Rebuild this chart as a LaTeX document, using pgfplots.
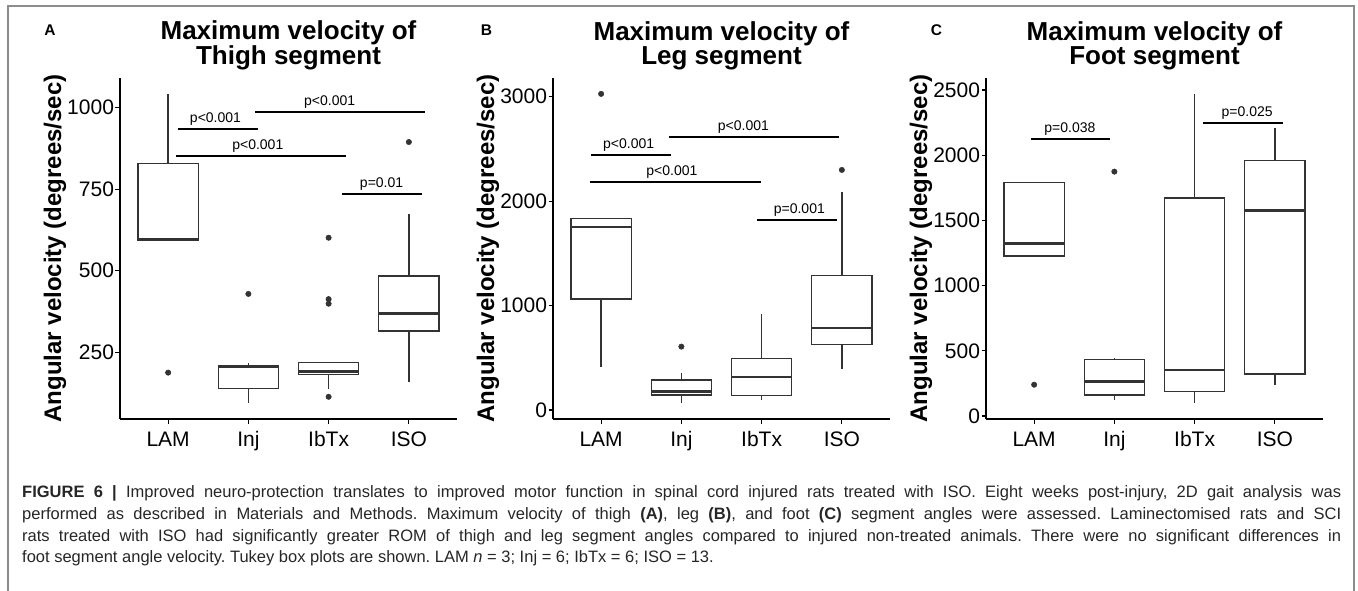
\documentclass[border=0pt]{standalone}
\usepackage{pgfplots}
\pgfplotsset{compat=1.18}
\usepgfplotslibrary{statistics}
\usepackage{fontspec}
\setmainfont{Liberation Sans}
\definecolor{boxc}{HTML}{333333}
\definecolor{framec}{HTML}{8C8C8C}
\definecolor{capc}{HTML}{262626}

\tikzset{siglab/.style={anchor=base, yshift=6.5pt, inner sep=0pt, font=\fontsize{14}{14}\selectfont}}
\pgfplotsset{
  panel/.style={
    scale only axis, width=337pt, height=341pt,
    axis x line*=bottom, axis y line*=left,
    axis line style={line width=1.1pt, black, -},
    xmin=0.4, xmax=4.6, xtick={1,2,3,4}, xticklabels={LAM,Inj,IbTx,ISO},
    tick align=outside, major tick length=4.5pt,
    tick style={line width=1.1pt, black},
    ticklabel style={font=\fontsize{21}{21}\selectfont},
    xticklabel style={anchor=base, yshift=-22.7pt},
    yticklabel style={xshift=2pt},
    /pgf/number format/assume math mode=true,
    /pgf/number format/1000 sep={},
    ylabel={Angular velocity (degrees/sec)},
    ylabel style={font=\bfseries\fontsize{24}{24}\selectfont, at={(axis description cs:-0.175,0.5)}, anchor=base},
    title style={font=\bfseries\fontsize{26}{24}\selectfont, align=center, at={(axis description cs:0.5,1)}, anchor=south, inner sep=0pt, yshift=2pt},
    boxplot/draw direction=y,
    boxplot/box extend=0.75,
    boxplot/whisker extend=0,
    clip=false,
  },
  bx/.style={draw=boxc, line width=1.4pt, solid, mark=*, mark size=2.7pt,
    mark options={fill=boxc, draw=boxc, line width=0.5pt},
    boxplot/every median/.style={line width=2.8pt}},
  sig/.style={black, line width=1.6pt, no marks},
}

\begin{document}
\begin{tikzpicture}
\path[use as bounding box] (0pt,0pt) rectangle (1358pt,-590pt);
\draw[framec, line width=1.5pt] (8pt,-595pt) -- (8pt,-6pt) -- (1354pt,-6pt) -- (1354pt,-595pt);

% ---------------- Panel A ----------------
\begin{axis}[panel, at={(120pt,-419pt)}, anchor=south west,
  ymin=46, ymax=1090, ytick={250,500,750,1000},
  title={Maximum velocity of\\Thigh segment}]
\addplot[bx, boxplot prepared={draw position=1, lower whisker=592, lower quartile=592, median=597, upper quartile=829, upper whisker=1040}]
  table[row sep=\\, y index=0] {188\\};
\addplot[bx, boxplot prepared={draw position=2, lower whisker=95, lower quartile=140, median=205, upper quartile=209, upper whisker=219}]
  table[row sep=\\, y index=0] {429\\};
\addplot[bx, boxplot prepared={draw position=3, lower whisker=137, lower quartile=183, median=191, upper quartile=219, upper whisker=219}]
  table[row sep=\\, y index=0] {601\\ 413\\ 399\\ 114\\};
\addplot[bx, boxplot prepared={draw position=4, lower whisker=160, lower quartile=316, median=369, upper quartile=484, upper whisker=675}]
  table[row sep=\\, y index=0] {894\\};
\addplot[sig] coordinates {(1.12,934) (2.12,934)} node[siglab, pos=0.47] {p<0.001};
\addplot[sig] coordinates {(2.08,986) (4.2,986)} node[siglab, pos=0.44] {p<0.001};
\addplot[sig] coordinates {(1.1,852) (3.22,852)} node[siglab, pos=0.48] {p<0.001};
\addplot[sig] coordinates {(3.17,734) (4.17,734)} node[siglab, pos=0.49] {p=0.01};
\end{axis}

% ---------------- Panel B ----------------
\begin{axis}[panel, at={(553pt,-419pt)}, anchor=south west,
  ymin=-86, ymax=3179, ytick={0,1000,2000,3000},
  title={Maximum velocity of\\Leg segment}]
\addplot[bx, boxplot prepared={draw position=1, lower whisker=415, lower quartile=1063, median=1753, upper quartile=1836, upper whisker=1836}]
  table[row sep=\\, y index=0] {3027\\};
\addplot[bx, boxplot prepared={draw position=2, lower whisker=64, lower quartile=144, median=176, upper quartile=287, upper whisker=351}]
  table[row sep=\\, y index=0] {607\\};
\addplot[bx, boxplot prepared={draw position=3, lower whisker=93, lower quartile=137, median=316, upper quartile=492, upper whisker=916}]
  coordinates {};
\addplot[bx, boxplot prepared={draw position=4, lower whisker=390, lower quartile=626, median=785, upper quartile=1287, upper whisker=2091}]
  table[row sep=\\, y index=0] {2299\\};
\addplot[sig] coordinates {(0.875,2443) (1.87,2443)} node[siglab, pos=0.47] {p<0.001};
\addplot[sig] coordinates {(1.84,2615) (3.96,2615)} node[siglab, pos=0.44] {p<0.001};
\addplot[sig] coordinates {(0.86,2181) (2.99,2181)} node[siglab, pos=0.48] {p<0.001};
\addplot[sig] coordinates {(2.94,1820) (3.94,1820)} node[siglab, pos=0.53] {p=0.001};
\end{axis}

% ---------------- Panel C ----------------
\begin{axis}[panel, at={(986pt,-419pt)}, anchor=south west,
  ymin=-23, ymax=2592, ytick={0,500,1000,1500,2000,2500},
  title={Maximum velocity of\\Foot segment}]
\addplot[bx, boxplot prepared={draw position=1, lower whisker=1227, lower quartile=1227, median=1324, upper quartile=1789, upper whisker=1793}]
  table[row sep=\\, y index=0] {240\\};
\addplot[bx, boxplot prepared={draw position=2, lower whisker=120, lower quartile=161, median=263, upper quartile=433, upper whisker=442}]
  table[row sep=\\, y index=0] {1874\\};
\addplot[bx, boxplot prepared={draw position=3, lower whisker=97, lower quartile=189, median=353, upper quartile=1672, upper whisker=2467}]
  coordinates {};
\addplot[bx, boxplot prepared={draw position=4, lower whisker=238, lower quartile=322, median=1574, upper quartile=1958, upper whisker=2211}]
  coordinates {};
\addplot[sig] coordinates {(0.96,2124) (1.95,2124)} node[siglab, pos=0.49] {p=0.038};
\addplot[sig] coordinates {(3.11,2245) (4.1,2245)} node[siglab, pos=0.55] {p=0.025};
\end{axis}

% panel letters
\node[font=\bfseries\fontsize{15.5}{15.5}\selectfont] at (50pt,-30.5pt) {A};
\node[font=\bfseries\fontsize{15.5}{15.5}\selectfont] at (486.5pt,-30.5pt) {B};
\node[font=\bfseries\fontsize{15.5}{15.5}\selectfont] at (936.5pt,-30.5pt) {C};

% caption
\begin{scope}[every node/.style={anchor=base west, inner sep=0pt, text=capc, font=\fontsize{16.5}{16.5}\selectfont\frenchspacing}]
\node at (22pt,-497.3pt) {\makebox[1319pt][s]{\textbf{FIGURE 6 |} Improved neuro-protection translates to improved motor function in spinal cord injured rats treated with ISO. Eight weeks post-injury, 2D gait analysis was}};
\node at (22pt,-519.3pt) {\makebox[1319pt][s]{performed as described in Materials and Methods. Maximum velocity of thigh \textbf{(A)}, leg \textbf{(B)}, and foot \textbf{(C)} segment angles were assessed. Laminectomised rats and SCI}};
\node at (22pt,-541pt) {\makebox[1319pt][s]{rats treated with ISO had significantly greater ROM of thigh and leg segment angles compared to injured non-treated animals. There were no significant differences in}};
\node at (22pt,-562.7pt) {foot segment angle velocity. Tukey box plots are shown. LAM \textit{n} = 3; Inj = 6; IbTx = 6; ISO = 13.};
\end{scope}
\end{tikzpicture}
\end{document}
